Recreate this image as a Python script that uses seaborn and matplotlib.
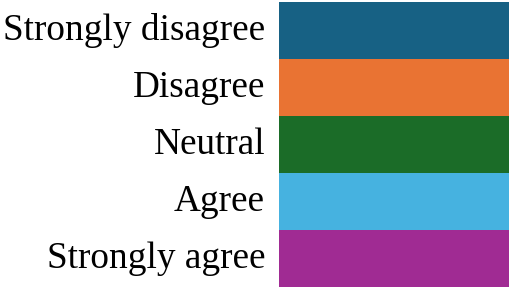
import matplotlib
matplotlib.use("Agg")
import matplotlib.pyplot as plt
import matplotlib.transforms as mtransforms
import seaborn as sns
import pandas as pd

# legend-style likert colour key
categories = ['Strongly disagree', 'Disagree', 'Neutral', 'Agree', 'Strongly agree']
values = [1, 1, 1, 1, 1]
colors = ['#176184', '#e97333', '#1b6c28', '#46b2e0', '#a02b93']

df = pd.DataFrame({'category': categories, 'value': values})

sns.set_style('white')
plt.rcParams['font.family'] = ['Liberation Serif', 'DejaVu Serif']

fig = plt.figure(figsize=(5.09, 2.87), dpi=100)
ax = fig.add_axes([279 / 509, 0, 230 / 509, 285 / 287])

sns.barplot(data=df, y='category', x='value', hue='category', palette=colors,
            orient='h', width=1.0, legend=False, ax=ax, saturation=1,
            linewidth=0, edgecolor='none')

ax.set_xlim(0, 1)
ax.set_ylim(4.5, -0.5)
ax.set_xlabel('')
ax.set_ylabel('')
ax.set_xticks([])
ax.tick_params(axis='y', length=0, pad=10, labelsize=26.8, labelcolor='black')
for s in ax.spines.values():
    s.set_visible(False)

# nudge labels up a little
shift = mtransforms.ScaledTranslation(0, 3 / 72, fig.dpi_scale_trans)
for lbl in ax.get_yticklabels():
    lbl.set_transform(lbl.get_transform() + shift)

fig.savefig('out.png', dpi=100)
